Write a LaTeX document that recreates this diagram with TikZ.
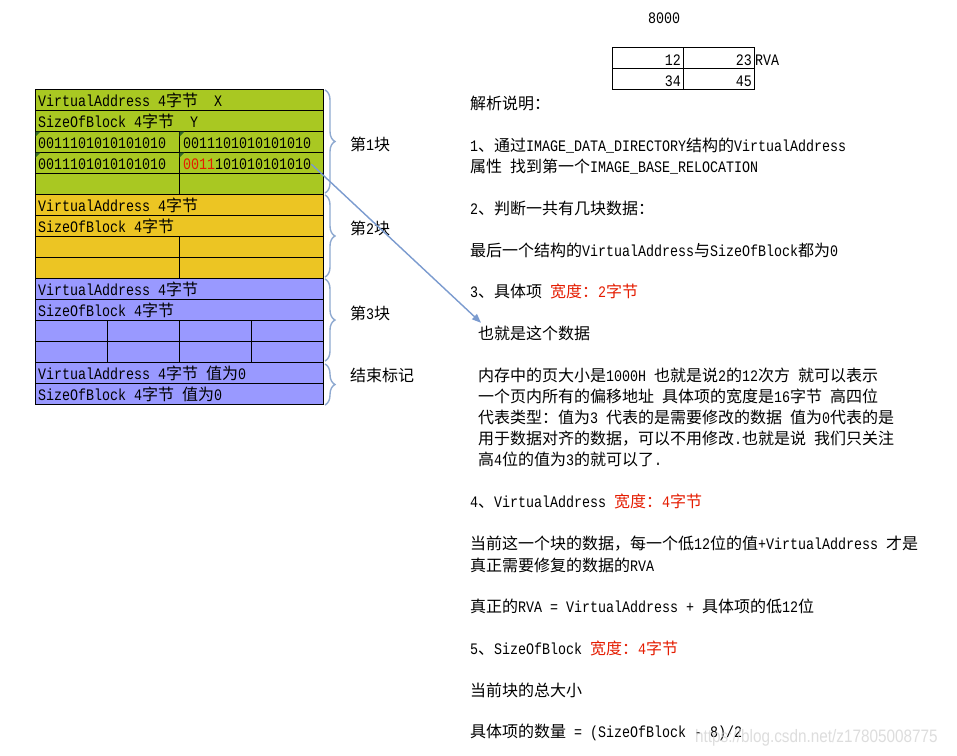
\documentclass[tikz,border=0pt]{standalone}
\usepackage{fontspec}
\setmainfont{Liberation Mono}[FakeStretch=0.8333]
\newfontfamily\cjk{Noto Sans CJK SC}
\newfontfamily\wmfont{Liberation Sans}[FakeStretch=0.85]
\usetikzlibrary{arrows.meta,decorations.pathreplacing}
\newcommand\zh[1]{{\cjk #1}}
\newcommand\fs{\fontsize{16}{21}\selectfont}
\definecolor{greenfill}{HTML}{A9C822}
\definecolor{yellowfill}{HTML}{ECC523}
\definecolor{bluefill}{HTML}{9999FF}
\definecolor{redtxt}{HTML}{E51C00}
\definecolor{bracecol}{HTML}{8EA9D0}
\definecolor{arrowcol}{HTML}{7B9BCF}
\definecolor{errg}{HTML}{336B26}
\newcommand\rd[1]{\textcolor{redtxt}{#1}}
\tikzset{
  cellbox/.style={draw=black, line width=0.8pt, anchor=north west, inner sep=0pt, minimum height=21pt},
  full/.style={cellbox, minimum width=288pt},
  half/.style={cellbox, minimum width=144pt},
  quarter/.style={cellbox, minimum width=72pt},
  small/.style={cellbox, minimum width=71pt},
  txt/.style={anchor=base west, inner sep=0pt, font=\fs},
  rtxt/.style={anchor=base east, inner sep=0pt, font=\fs},
  bracestyle/.style={draw=bracecol, line width=1.4pt, decorate, decoration={brace, amplitude=10pt}},
  errmark/.style={fill=errg},
}
\begin{document}
\begin{tikzpicture}[x=1pt,y=-1pt]
\fill[white] (0,0) rectangle (957,755);
\useasboundingbox (0,0) rectangle (957,755);

% ---- block 1 (green)
\node[full, fill=greenfill] (g1) at (35,89) {};
\node[full, fill=greenfill] (g2) at (35,110) {};
\node[half, fill=greenfill] (g3a) at (35,131) {};
\node[half, fill=greenfill] (g3b) at (179,131) {};
\node[half, fill=greenfill] (g4a) at (35,152) {};
\node[half, fill=greenfill] (g4b) at (179,152) {};
\node[half, fill=greenfill] (g5a) at (35,173) {};
\node[half, fill=greenfill] (g5b) at (179,173) {};
% ---- block 2 (yellow)
\node[full, fill=yellowfill] (y1) at (35,194) {};
\node[full, fill=yellowfill] (y2) at (35,215) {};
\node[half, fill=yellowfill] (y3a) at (35,236) {};
\node[half, fill=yellowfill] (y3b) at (179,236) {};
\node[half, fill=yellowfill] (y4a) at (35,257) {};
\node[half, fill=yellowfill] (y4b) at (179,257) {};
% ---- block 3 (blue)
\node[full, fill=bluefill] (b1) at (35,278) {};
\node[full, fill=bluefill] (b2) at (35,299) {};
\node[quarter, fill=bluefill] (b3a) at (35,320) {};
\node[quarter, fill=bluefill] (b3b) at (107,320) {};
\node[quarter, fill=bluefill] (b3c) at (179,320) {};
\node[quarter, fill=bluefill] (b3d) at (251,320) {};
\node[quarter, fill=bluefill] (b4a) at (35,341) {};
\node[quarter, fill=bluefill] (b4b) at (107,341) {};
\node[quarter, fill=bluefill] (b4c) at (179,341) {};
\node[quarter, fill=bluefill] (b4d) at (251,341) {};
% ---- end marker
\node[full, fill=bluefill] (e1) at (35,362) {};
\node[full, fill=bluefill] (e2) at (35,383) {};

% error indicator triangles
\fill[errmark] (35.5,131.5) -- (40.5,131.5) -- (35.5,136.5) -- cycle;
\fill[errmark] (179.5,131.5) -- (184.5,131.5) -- (179.5,136.5) -- cycle;
\fill[errmark] (35.5,152.5) -- (40.5,152.5) -- (35.5,157.5) -- cycle;
\fill[errmark] (179.5,152.5) -- (184.5,152.5) -- (179.5,157.5) -- cycle;

% table texts
\node[txt] (tg1) at (38,106.5) {VirtualAddress 4\zh{字节}\ \ X};
\node[txt] (tg2) at (38,127.5) {SizeOfBlock 4\zh{字节}\ \ Y};
\node[txt] (tg3a) at (38,148.5) {0011101010101010};
\node[txt] (tg3b) at (183,148.5) {0011101010101010};
\node[txt] (tg4a) at (38,169.5) {0011101010101010};
\node[txt] (tg4b) at (183,169.5) {\rd{0011}101010101010};
\node[txt] (ty1) at (38,211.5) {VirtualAddress 4\zh{字节}};
\node[txt] (ty2) at (38,232.5) {SizeOfBlock 4\zh{字节}};
\node[txt] (tb1) at (38,295.5) {VirtualAddress 4\zh{字节}};
\node[txt] (tb2) at (38,316.5) {SizeOfBlock 4\zh{字节}};
\node[txt] (te1) at (38,379.5) {VirtualAddress 4\zh{字节} \zh{值为}0};
\node[txt] (te2) at (38,400.5) {SizeOfBlock 4\zh{字节} \zh{值为}0};

% braces
\draw[bracestyle] (325,90) -- (325,193);
\draw[bracestyle] (325,195) -- (325,277);
\draw[bracestyle] (325,279) -- (325,361);
\draw[bracestyle] (325,364) -- (325,405);
\node[txt] (l1) at (350,150.5) {\zh{第}1\zh{块}};
\node[txt] (l2) at (350,234) {\zh{第}2\zh{块}};
\node[txt] (l3) at (350,319) {\zh{第}3\zh{块}};
\node[txt] (l4) at (350,381) {\zh{结束标记}};

% top-right small table
\node[txt] (n8000) at (648,23.5) {8000};
\node[small] (s11) at (612,47) {};
\node[small] (s12) at (683,47) {};
\node[small] (s21) at (612,68) {};
\node[small] (s22) at (683,68) {};
\node[rtxt] (v11) at (681,65) {12};
\node[rtxt] (v12) at (752,65) {23};
\node[rtxt] (v21) at (681,86) {34};
\node[rtxt] (v22) at (752,86) {45};
\node[txt] (rva) at (755,65) {RVA};

% right explanations
\node[txt] (h0) at (470,109.5) {\zh{解析说明：}};
\node[txt] (p1a) at (470,151) {1\zh{、通过}IMAGE\_DATA\_DIRECTORY\zh{结构的}VirtualAddress};
\node[txt] (p1b) at (470,172.5) {\zh{属性} \zh{找到第一个}IMAGE\_BASE\_RELOCATION};
\node[txt] (p2a) at (470,214.5) {2\zh{、判断一共有几块数据：}};
\node[txt] (p2b) at (470,256) {\zh{最后一个结构的}VirtualAddress\zh{与}SizeOfBlock\zh{都为}0};
\node[txt] (p3a) at (470,297.5) {3\zh{、具体项} \rd{\zh{宽度：}2\zh{字节}}};
\node[txt] (p3b) at (478,339.5) {\zh{也就是这个数据}};
\node[txt] (p3c) at (478,381) {\zh{内存中的页大小是}1000H \zh{也就是说}2\zh{的}12\zh{次方} \zh{就可以表示}};
\node[txt] (p3d) at (478,402) {\zh{一个页内所有的偏移地址} \zh{具体项的宽度是}16\zh{字节} \zh{高四位}};
\node[txt] (p3e) at (478,423) {\zh{代表类型：值为}3 \zh{代表的是需要修改的数据} \zh{值为}0\zh{代表的是}};
\node[txt] (p3f) at (478,444) {\zh{用于数据对齐的数据，可以不用修改}.\zh{也就是说} \zh{我们只关注}};
\node[txt] (p3g) at (478,465.5) {\zh{高}4\zh{位的值为}3\zh{的就可以了}.};
\node[txt] (p4a) at (470,507.5) {4\zh{、}VirtualAddress \rd{\zh{宽度：}4\zh{字节}}};
\node[txt] (p4b) at (470,549.5) {\zh{当前这一个块的数据，每一个低}12\zh{位的值}+VirtualAddress \zh{才是}};
\node[txt] (p4c) at (470,571) {\zh{真正需要修复的数据的}RVA};
\node[txt] (p4d) at (470,612.5) {\zh{真正的}RVA = VirtualAddress + \zh{具体项的低}12\zh{位}};
\node[txt] (p5a) at (470,654.5) {5\zh{、}SizeOfBlock \rd{\zh{宽度：}4\zh{字节}}};
\node[txt] (p5b) at (470,696) {\zh{当前块的总大小}};
\node[txt] (p5c) at (470,737.5) {\zh{具体项的数量} = (SizeOfBlock - 8)/2};

% arrow
\draw[arrowcol, line width=1.4pt, -{Triangle[length=9pt,width=7pt]}]
  (tg4b.east) -- ([shift={(3,-3)}]p3b.north west);

% watermark
\node[anchor=base west, inner sep=0pt, font=\wmfont\fontsize{18}{20}\selectfont, text=gray!35, opacity=0.75] (wm) at (695,742) {https://blog.csdn.net/z17805008775};
\end{tikzpicture}
\end{document}
